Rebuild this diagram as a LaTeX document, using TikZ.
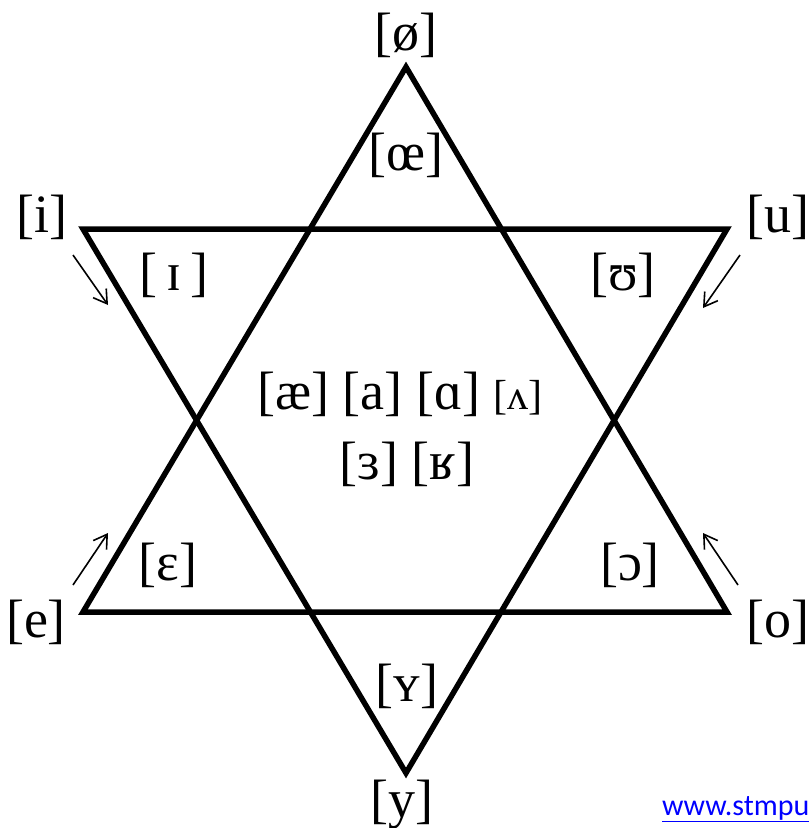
\documentclass[tikz,border=0pt]{standalone}
\usepackage{fontspec}
\setmainfont{Liberation Serif}[Ligatures=TeX]
\newfontfamily\ipafont{Liberation Serif}
\newfontfamily\linkfont{Carlito}
\usetikzlibrary{arrows.meta}
\begin{document}
\begin{tikzpicture}[x=1pt,y=-1pt,
  edge/.style={line width=5.5pt,line join=miter},
  hint/.style={line width=1.6pt,-{Straight Barb[length=13pt,width=16pt,line width=1.6pt]}},
  big/.style={inner sep=0pt,font=\ipafont\fontsize{54}{58}\selectfont},
  small/.style={inner sep=0pt,font=\ipafont\fontsize{54}{58}\selectfont}]
\useasboundingbox (0,0) rectangle (809,828);
% vertices
\coordinate (top) at (406,67);
\coordinate (bl) at (83,612);
\coordinate (br) at (727,612);
\coordinate (tl) at (83,229);
\coordinate (tr) at (727,229);
\coordinate (bot) at (406,773);
\draw[edge] (top) -- (br) -- (bl) -- cycle;
\draw[edge] (tl) -- (tr) -- (bot) -- cycle;
% outer labels
\node[big] (lo) at (406,35) {[ø]};
\node[big] (li) at (42,217) {[i]};
\node[big] (lu) at (778,217) {[u]};
\node[big] (le) at (36,622) {[e]};
\node[big] (lbo) at (778,622) {[o]};
\node[big] (ly) at (402,805) {[y]};
% inner labels
\node[small] (loe) at (406,155) {[œ]};
\node[small] (lI) at (174,275) {[\,ɪ\,]};
\node[small] (lU) at (623,275) {[ʊ]};
\node[small] (lE) at (168,565) {[ɛ]};
\node[small] (lO) at (630,565) {[ɔ]};
\node[small] (lY) at (407,686) {[ʏ]};
\node[small] (c1) at (400,394) {[æ] [a] [ɑ] {\fontsize{42}{46}\selectfont[ʌ]}};
\node[small] (c2) at (407,464) {[ɜ] [ʁ]};
% arrows
\coordinate (a1s) at (73,255); \coordinate (a1e) at (108,305);
\coordinate (a2s) at (740,255); \coordinate (a2e) at (703,308);
\coordinate (a3s) at (73,585); \coordinate (a3e) at (108,533);
\coordinate (a4s) at (738,585); \coordinate (a4e) at (703,533);
\draw[hint] (a1s) -- (a1e);
\draw[hint] (a2s) -- (a2e);
\draw[hint] (a3s) -- (a3e);
\draw[hint] (a4s) -- (a4e);
% link
\node[inner sep=0pt,anchor=base west,text=blue,font=\linkfont\fontsize{30}{34}\selectfont] (link) at (662,815) {\underline{www.stmpu}};
\end{tikzpicture}
\end{document}
